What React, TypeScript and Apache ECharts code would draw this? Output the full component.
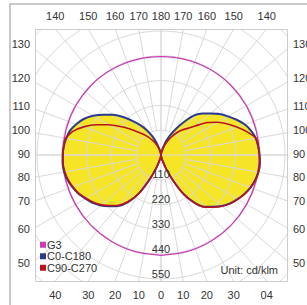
import React, { useEffect, useRef } from "react";
import * as echarts from "echarts";

// Angles from nadir (degrees)
const GAMMA = [0, 5, 10, 15, 20, 25, 30, 35, 40, 45, 50, 55, 60, 65, 70, 75, 80, 85, 90,
  95, 100, 105, 110, 115, 120, 125, 130, 135, 140, 145, 150, 155, 160, 165, 170, 175, 180];

// Intensities in cd/klm
const C0 = [0, 2, 9, 26, 62, 119, 198, 255, 295, 321, 348, 370, 387, 405, 418, 429, 436, 438, 436,
  433, 427, 418, 400, 378, 348, 312, 277, 238, 198, 163, 128, 92, 57, 26, 9, 2, 0];
const C180 = [0, 2, 9, 26, 62, 121, 200, 258, 300, 325, 352, 374, 392, 408, 422, 432, 438, 440, 437,
  433, 427, 414, 396, 370, 343, 317, 286, 260, 229, 180, 136, 97, 62, 31, 12, 3, 0];
const C90 = [0, 2, 9, 26, 62, 118, 196, 252, 291, 317, 344, 366, 384, 402, 415, 426, 433, 436, 435,
  433, 429, 405, 365, 317, 268, 220, 180, 145, 119, 97, 75, 57, 40, 22, 9, 2, 0];
const C270 = [0, 2, 9, 26, 62, 121, 201, 260, 302, 328, 354, 376, 393, 410, 423, 433, 439, 440, 437,
  433, 427, 396, 361, 326, 290, 251, 202, 167, 145, 119, 92, 66, 44, 22, 9, 2, 0];

const G3_GAMMA = [0, 15, 30, 45, 60, 75, 90, 105, 120, 135, 150, 165, 180];
const G3 = [445, 444, 442, 440, 438, 437, 436, 436, 437, 438, 438, 437, 436];

const RING_LABELS = [110, 220, 330, 440, 550];
const TOP_ANGLES = [140, 150, 160, 170, 180, 170, 160, 150, 140];
const TOP_SIDES = [-1, -1, -1, -1, 0, 1, 1, 1, 1];
const SIDE_ANGLES = [130, 120, 110, 100, 90, 80, 70, 60, 50];
const BOTTOM_ANGLES = [40, 30, 20, 10, 0, 10, 20, 30, 40];
const BOTTOM_SIDES = [-1, -1, -1, -1, 0, 1, 1, 1, 1];
const BOTTOM_TEXT = ["40", "30", "20", "10", "0", "10", "20", "30", "04"];
const LEGEND_NAMES = ["G3", "C0-C180", "C90-C270"];
const UNIT_TEXT = "Unit: cd/klm";

const FONT = "Liberation Sans, Arial, sans-serif";
const GRID = "#d9d9d9";
const YELLOW = "#f5e526";
const BLUE = "#2a3a8f";
const RED = "#b8141e";
const MAGENTA = "#c83cb4";
const TEXT = "#333333";

const CX = 161;
const CY = 155;
const R = 173.6;
const R_MAX = 770;
const HALF = 126;

export default function App() {
  const ref = useRef<HTMLDivElement>(null);

  useEffect(() => {
    const chart = echarts.init(ref.current!, null, { renderer: "svg" });
    const left = (vals: number[], angs: number[]) => angs.map((g, i) => [vals[i], g]);
    const right = (vals: number[], angs: number[]) => angs.map((g, i) => [vals[i], 360 - g]).reverse();
    const blue = [...left(C0, GAMMA), ...right(C180, GAMMA)];
    const red = [...left(C90, GAMMA), ...right(C270, GAMMA)];
    const g3 = [...left(G3, G3_GAMMA), ...right(G3, G3_GAMMA)];

    const axisHidden = {
      axisLine: { show: false },
      axisTick: { show: false },
      axisLabel: { show: false },
    };

    chart.setOption({
      animation: false,
      polar: [
        { center: [CX, CY], radius: [0, R] },
        { center: [CX, CY], radius: [R / 7, R] },
      ],
      angleAxis: [
        {
          polarIndex: 0, type: "value", min: 0, max: 360, interval: 90, startAngle: 270, clockwise: true,
          ...axisHidden, splitLine: { show: true, lineStyle: { color: GRID, width: 1 } }, z: 2,
        },
        {
          polarIndex: 1, type: "value", min: 0, max: 360, interval: 10, startAngle: 270, clockwise: true,
          ...axisHidden, splitLine: { show: true, lineStyle: { color: GRID, width: 1 } }, z: 2,
        },
      ],
      radiusAxis: [
        {
          polarIndex: 0, type: "value", min: 0, max: R_MAX, interval: 110,
          ...axisHidden, splitLine: { show: true, lineStyle: { color: GRID, width: 1 } }, z: 2,
        },
        {
          polarIndex: 1, type: "value", min: 0, max: R_MAX, interval: 110,
          ...axisHidden, splitLine: { show: false }, z: 2,
        },
      ],
      legend: {
        data: LEGEND_NAMES,
        orient: "vertical",
        left: 40,
        top: 239,
        padding: 0,
        itemWidth: 6,
        itemHeight: 6,
        itemGap: 0,
        icon: "rect",
        textStyle: { fontSize: 11, color: TEXT, fontFamily: FONT, lineHeight: 11.5, padding: [0, 0, 0, -4] },
      },
      series: [
        {
          type: "line", name: "fill", coordinateSystem: "polar", polarIndex: 0, data: blue,
          symbol: "none", smooth: 0.2, silent: true, lineStyle: { width: 0 },
          areaStyle: { color: YELLOW, opacity: 1 }, itemStyle: { color: YELLOW }, z: 1,
        },
        {
          type: "line", name: "G3", coordinateSystem: "polar", polarIndex: 0, data: g3,
          symbol: "none", smooth: 0.3, lineStyle: { color: MAGENTA, width: 1.3 }, itemStyle: { color: MAGENTA }, z: 3,
        },
        {
          type: "line", name: "C0-C180", coordinateSystem: "polar", polarIndex: 0, data: blue,
          symbol: "none", smooth: 0.2, lineStyle: { color: BLUE, width: 2 }, itemStyle: { color: BLUE }, z: 3,
        },
        {
          type: "line", name: "C90-C270", coordinateSystem: "polar", polarIndex: 0, data: red,
          symbol: "none", smooth: 0.2, lineStyle: { color: RED, width: 1.6 }, itemStyle: { color: RED }, z: 4,
        },
      ],
    });

    const px = (r: number, a: number) => chart.convertToPixel({ seriesIndex: 2 }, [r, a]) as number[];
    const c = px(0, 0);
    const dirOf = (a: number) => {
      const p = px(100, a);
      const dx = p[0] - c[0];
      const dy = p[1] - c[1];
      const l = Math.hypot(dx, dy);
      return [dx / l, dy / l];
    };
    const txt = (text: string, x: number, y: number, align: string) => ({
      type: "text", z: 102, x, y,
      style: { text, fill: TEXT, font: `11px ${FONT}`, align, verticalAlign: "middle" },
    });

    const elements: any[] = [];
    const top = c[1] - HALF;
    const bottom = c[1] + HALF;
    const lft = c[0] - HALF;
    const rgt = c[0] + HALF;
    // white covers outside the plot box
    elements.push({ type: "rect", z: 100, shape: { x: 0, y: 0, width: 307, height: top }, style: { fill: "#fff" } });
    elements.push({ type: "rect", z: 100, shape: { x: 0, y: bottom, width: 307, height: 305 - bottom }, style: { fill: "#fff" } });
    elements.push({ type: "rect", z: 100, shape: { x: 0, y: 0, width: lft, height: 305 }, style: { fill: "#fff" } });
    elements.push({ type: "rect", z: 100, shape: { x: rgt, y: 0, width: 307 - rgt, height: 305 }, style: { fill: "#fff" } });
    // plot box
    elements.push({ type: "rect", z: 101, shape: { x: lft + 0.5, y: top + 0.5, width: 2 * HALF, height: 2 * HALF }, style: { fill: "none", stroke: "#cccccc", lineWidth: 1 } });
    // outer frame
    elements.push({ type: "rect", z: 101, shape: { x: 10, y: 4, width: 400, height: 400 }, style: { fill: "none", stroke: "#b8b8b8", lineWidth: 1.5 } });

    TOP_ANGLES.forEach((g, i) => {
      const a = TOP_SIDES[i] >= 0 ? 360 - g : g;
      const d = dirOf(a);
      const t = HALF / Math.abs(d[1]);
      elements.push(txt(String(g), c[0] + d[0] * t, top - 13, "center"));
    });
    BOTTOM_ANGLES.forEach((g, i) => {
      const a = BOTTOM_SIDES[i] > 0 ? 360 - g : g;
      const d = dirOf(a);
      const t = HALF / Math.abs(d[1]);
      elements.push(txt(BOTTOM_TEXT[i], c[0] + d[0] * t, bottom + 14, "center"));
    });
    SIDE_ANGLES.forEach((g) => {
      const dl = dirOf(g);
      const tl = (HALF + 4.5) / Math.abs(dl[0]);
      const y = c[1] - 1.5 + dl[1] * tl;
      elements.push(txt(String(g), lft - 5, y, "right"));
      elements.push(txt(String(g), rgt + 6, y, "left"));
    });
    RING_LABELS.forEach((v) => {
      const p = px(v, 0);
      elements.push(txt(String(v), p[0], p[1] - 5.5, "center"));
    });
    elements.push(txt(UNIT_TEXT, rgt - 9, bottom - 11, "right"));

    chart.setOption({ graphic: { elements } });

    return () => chart.dispose();
  }, []);

  return <div ref={ref} style={{ position: "absolute", left: 0, top: 0, width: 307, height: 305 }} />;
}
